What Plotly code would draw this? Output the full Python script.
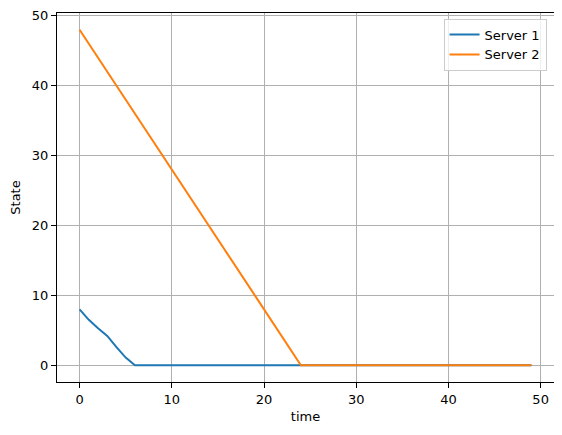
import plotly.graph_objects as go

time = list(range(50))
server1 = [8.0, 6.5, 5.3, 4.2, 2.6, 1.1] + [0.0] * 44
server2 = [48 - 2 * t for t in range(25)] + [0] * 25

x_ticks = [0, 10, 20, 30, 40, 50]
y_ticks = [0, 10, 20, 30, 40, 50]

fig = go.Figure()
fig.add_trace(go.Scatter(x=time, y=server1, mode="lines", name="Server 1",
                         line=dict(color="#1f77b4", width=2)))
fig.add_trace(go.Scatter(x=time, y=server2, mode="lines", name="Server 2",
                         line=dict(color="#ff7f0e", width=2)))

axis_style = dict(
    showline=True, linecolor="black", linewidth=1, mirror=True,
    showgrid=True, gridcolor="#b0b0b0", gridwidth=1,
    ticks="outside", ticklen=5, tickcolor="black",
    zeroline=False, tickfont=dict(size=13, color="black"),
    automargin=False,
)
fig.update_xaxes(axis_style, range=[-2.45, 51.45], tickvals=x_ticks,
                 title=dict(text="time", font=dict(size=13, color="black"), standoff=6))
fig.update_yaxes(axis_style, range=[-2.4, 50.4], tickvals=y_ticks,
                 title=dict(text="State", font=dict(size=13, color="black"), standoff=8))

# the page body has an 8px margin, so the figure is sized to fit inside it
fig.update_layout(
    width=546, height=419,
    margin=dict(l=49, r=0, t=5, b=45, autoexpand=False),
    paper_bgcolor="white", plot_bgcolor="white",
    font=dict(family="DejaVu Sans", size=13, color="black"),
    legend=dict(x=0.985, y=0.985, xanchor="right", yanchor="top",
                bordercolor="#cccccc", borderwidth=1, itemwidth=30,
                bgcolor="rgba(255,255,255,0.8)", font=dict(size=13)),
)
fig.write_html("out.html")
